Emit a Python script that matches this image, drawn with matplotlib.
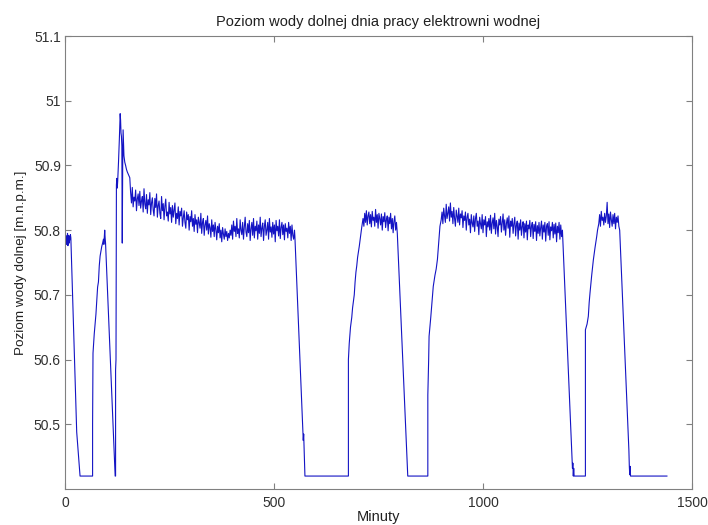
import numpy as np
import matplotlib
matplotlib.use("Agg")
import matplotlib.pyplot as plt

plt.rcParams['font.family'] = ['Liberation Sans', 'DejaVu Sans']

# Water levels are given in millimetres above 50.000 m n.p.m.
# Start, first two short cycles and the peak after the start-up
ramp_a_min = [0, 1, 2, 3, 4, 5, 6, 7, 8, 9, 10, 11, 12, 13, 14, 28, 36,
              66, 66, 67, 70, 74, 77, 78, 80, 82, 84, 86, 88, 90, 92, 93, 94, 95, 96,
              97, 120, 121, 121, 122,
              123, 124, 125, 126, 128, 130, 132, 133, 134, 135, 136, 137, 138, 139,
              140, 141, 143, 145, 147, 149, 151, 153, 155]
ramp_a_mm = [800, 785, 792, 778, 790, 783, 795, 776, 788, 792, 780, 790, 785, 793, 788, 488, 420,
             420, 500, 610, 640, 670, 700, 712, 720, 745, 760, 768, 775, 780, 786, 778, 790, 800, 788,
             780, 420, 420, 584, 600,
             870, 880, 865, 875, 905, 940, 980, 970, 950, 945, 930, 780, 900, 955,
             935, 915, 905, 900, 894, 890, 887, 884, 881]

# Long working period 1 (every 2 minutes from minute 157)
plateau1_start, plateau1_step = 157, 2
plateau1_mm = [858, 842, 866, 836, 851, 845, 862, 830, 848, 856,
               838, 860, 834, 845, 852, 828, 864, 840, 833, 855,
               826, 847, 839, 858, 824, 842, 850, 831, 822, 849,
               835, 856, 820, 838, 845, 826, 818, 852, 830, 841,
               816, 837, 848, 822, 828, 814, 843, 825, 835, 812,
               838, 820, 831, 842, 810, 826, 818, 836, 808, 829,
               822, 834, 806, 819, 830, 812, 803, 828, 816, 824,
               800, 821, 813, 830, 806, 818, 798, 824, 809, 816,
               796, 820, 811, 803, 826, 795, 812, 818, 792, 808,
               815, 800, 822, 794, 810, 804, 789, 816, 798, 808,
               790, 812, 801, 785, 806, 796, 810, 788, 800, 782,
               804, 794, 786, 802, 790, 798, 784, 795, 788, 800,
               792, 808, 786, 814, 798, 806, 790, 818, 795, 802,
               788, 816, 800, 793, 812, 786, 805, 820, 797, 790,
               810, 796, 815, 784, 802, 812, 792, 818, 788, 806,
               799, 814, 786, 808, 795, 820, 790, 803, 811, 784,
               806, 816, 792, 800, 812, 786, 818, 797, 805, 789,
               812, 794, 808, 782, 815, 799, 806, 791, 816, 787,
               804, 812, 793, 808, 785, 810, 798, 803, 788, 812,
               795, 806, 784, 808, 792, 786]

ramp_b_min = [549, 550, 570, 571, 574, 678, 678, 680, 683, 686, 688, 690, 692, 694, 696, 698,
              700, 702, 704, 706, 708, 710]
ramp_b_mm = [800, 790, 475, 485, 420, 420, 600, 625, 650, 665, 680, 690, 700, 720, 735, 745,
             758, 766, 775, 785, 795, 805]

plateau2_start, plateau2_step = 713, 2
plateau2_mm = [818, 806, 826, 812, 830, 808, 822, 828, 810, 824,
               805, 829, 815, 820, 806, 832, 812, 824, 803, 826,
               818, 808, 825, 800, 821, 813, 827, 804, 816, 822,
               799, 820, 810, 826, 802, 818, 796, 814, 822, 800,
               812]

ramp_c_min = [795, 820, 868, 868, 870, 871, 875, 878, 881, 885, 888, 891, 894, 897]
ramp_c_mm = [795, 420, 420, 545, 600, 636, 665, 690, 713, 730, 740, 755, 780, 806]

plateau3_start, plateau3_step = 900, 2
plateau3_mm = [816, 828, 810, 834, 822, 812, 840, 818, 826, 836,
               814, 842, 820, 829, 810, 835, 818, 806, 831, 822,
               812, 834, 808, 825, 819, 830, 804, 822, 815, 828,
               800, 820, 826, 808, 817, 796, 824, 811, 805, 822,
               798, 818, 826, 806, 814, 793, 820, 810, 802, 824,
               796, 816, 808, 821, 790, 813, 805, 818, 800, 823,
               795, 811, 819, 802, 826, 794, 815, 806, 790, 817,
               808, 821, 797, 812, 825, 800, 816, 792, 810, 819,
               803, 822, 789, 814, 806, 818, 795, 810, 820, 791,
               808, 814, 786, 811, 800, 816, 792, 806, 813, 788,
               810, 797, 814, 785, 808, 802, 815, 790, 806, 812,
               787, 809, 798, 813, 784, 807, 795, 812, 791, 804,
               814, 786, 808, 797, 812, 783, 806, 810, 792, 813,
               785, 805, 799, 812, 788, 809, 794, 811, 782, 806,
               796, 812, 786, 808, 790]

ramp_d_min = [1190, 1213, 1214, 1215, 1216, 1217, 1218, 1245, 1245, 1249, 1252, 1254, 1256,
              1260, 1264, 1268, 1272, 1274]
ramp_d_mm = [800, 450, 432, 440, 420, 432, 420, 420, 646, 655, 667, 688, 703,
             730, 754, 773, 790, 800]

plateau4_start, plateau4_step = 1277, 2
plateau4_mm = [810, 824, 806, 829, 815, 820, 808, 826, 812, 822,
               843, 810, 825, 804, 828, 816, 806, 824, 810, 826,
               802, 820, 812, 822, 806]

ramp_e_min = [1327, 1349, 1350, 1351, 1352, 1353, 1440]
ramp_e_mm = [800, 460, 436, 422, 435, 420, 420]


def plateau(start, step, vals):
    return list(np.arange(len(vals)) * step + start), list(vals)


p1_t, p1_v = plateau(plateau1_start, plateau1_step, plateau1_mm)
p2_t, p2_v = plateau(plateau2_start, plateau2_step, plateau2_mm)
p3_t, p3_v = plateau(plateau3_start, plateau3_step, plateau3_mm)
p4_t, p4_v = plateau(plateau4_start, plateau4_step, plateau4_mm)

minutes = np.array(ramp_a_min + p1_t + ramp_b_min + p2_t + ramp_c_min + p3_t
                   + ramp_d_min + p4_t + ramp_e_min, dtype=float)
level = 50.0 + np.array(ramp_a_mm + p1_v + ramp_b_mm + p2_v + ramp_c_mm + p3_v
                        + ramp_d_mm + p4_v + ramp_e_mm, dtype=float) / 1000.0

y_ticks = [50.5, 50.6, 50.7, 50.8, 50.9, 51.0, 51.1]
y_tick_labels = ["50.5", "50.6", "50.7", "50.8", "50.9", "51", "51.1"]
x_ticks = [0, 500, 1000, 1500]
x_tick_labels = ["0", "500", "1000", "1500"]

W, H = 708, 525
fig = plt.figure(figsize=(W / 100, H / 100), dpi=100)
ax = fig.add_axes([65 / W, 1 - 489 / H, (692 - 65) / W, (489 - 36) / H])

ax.plot(minutes, level, color="#1414c4", linewidth=0.8)

ax.set_xlim(0, 1500)
ax.set_ylim(50.4, 51.1)
ax.set_xticks(x_ticks)
ax.set_xticklabels(x_tick_labels)
ax.set_yticks(y_ticks)
ax.set_yticklabels(y_tick_labels)

ax.tick_params(direction="in", length=4, width=0.8, color="#808080",
               labelcolor="#303030", labelsize=10, top=True, right=True)
ax.tick_params(axis="y", pad=3)
ax.tick_params(axis="x", pad=5)
for s in ax.spines.values():
    s.set_color("#808080")
    s.set_linewidth(0.8)

ax.set_title("Poziom wody dolnej dnia pracy elektrowni wodnej", fontsize=10.5,
             color="#202020", pad=7)
ax.set_xlabel("Minuty", fontsize=10.5, color="#202020", labelpad=0)
ax.set_ylabel("Poziom wody dolnej [m.n.p.m.]", fontsize=9.7, color="#202020", labelpad=5)

fig.savefig("out.png", dpi=100, facecolor="white")
